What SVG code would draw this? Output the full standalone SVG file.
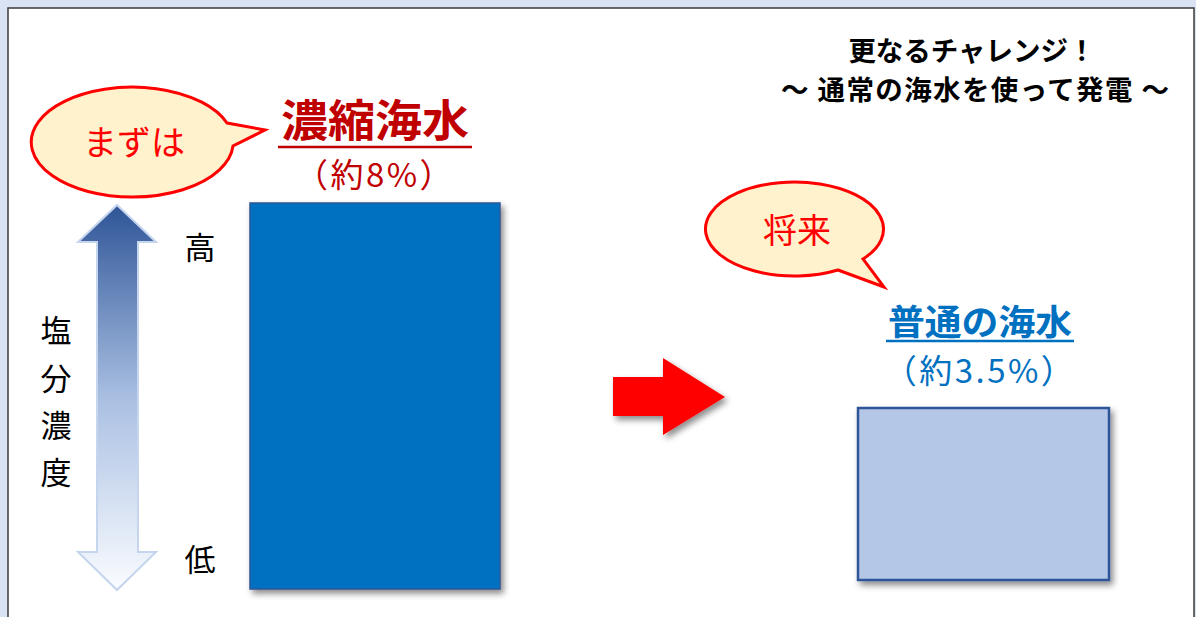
<svg xmlns="http://www.w3.org/2000/svg" width="1196" height="617" viewBox="0 0 1196 617">
<defs>
<style>
.jp{font-family:"Noto Sans CJK JP","Noto Sans",sans-serif;}
.bubble{fill:#fff2cc;stroke:#ff0000;stroke-width:3;stroke-linejoin:miter;}
.btxt{fill:#ff0000;font-size:34px;text-anchor:middle;}
.lbl{fill:#000;font-size:31px;text-anchor:middle;}
</style>
<filter id="sh" x="-20%" y="-20%" width="140%" height="140%">
<feDropShadow dx="3" dy="4" stdDeviation="3" flood-color="#000" flood-opacity="0.45"/>
</filter>
<linearGradient id="g" x1="0" y1="0" x2="0" y2="1">
<stop offset="0" stop-color="#2f5597"/>
<stop offset="0.5" stop-color="#a9bfe2"/>
<stop offset="1" stop-color="#fafcff"/>
</linearGradient>
</defs>
<rect x="0" y="0" width="1196" height="617" fill="#dae3f3"/>
<rect x="8" y="8" width="1186" height="620" fill="#ffffff" stroke="#3a3a3a" stroke-width="1.5"/>

<g id="title" class="jp" font-weight="bold" font-size="27.5" text-anchor="middle" fill="#000">
<text x="972" y="61">更なるチャレンジ！</text>
<text x="975" y="100" textLength="388" lengthAdjust="spacing">～ 通常の海水を使って発電 ～</text>
</g>

<g id="bubble-mazuwa">
<path class="bubble" d="M227,123 L265,130 L233,146 A101,55 0 1 1 227,123 Z"/>
<text class="jp btxt" x="134" y="155">まずは</text>
</g>

<g id="label-noshuku" class="jp" fill="#c00000" text-anchor="middle">
<text x="375" y="137" font-size="44" font-weight="bold" textLength="188" lengthAdjust="spacingAndGlyphs">濃縮海水</text>
<line x1="278" y1="147" x2="472" y2="147" stroke="#c00000" stroke-width="2.5"/>
<text x="375" y="187" font-size="33" letter-spacing="2.5">（約8%）</text>
</g>

<g id="bar-noshuku">
<rect x="250" y="203" width="250" height="386" fill="#0070c0" stroke="#2f5597" stroke-width="1.5" filter="url(#sh)"/>
</g>

<g id="axis">
<path d="M117,205 L156,242 L138,242 L138,552 L156,552 L117,590 L78,552 L97,552 L97,242 L78,242 Z" fill="url(#g)" stroke="#c5d5ee" stroke-width="2"/>
<text class="jp lbl" x="200" y="259">高</text>
<text class="jp lbl" x="200" y="571">低</text>
<g class="jp" font-size="31" fill="#000" text-anchor="middle">
<text x="56" y="342">塩</text>
<text x="56" y="390">分</text>
<text x="56" y="437">濃</text>
<text x="56" y="484">度</text>
</g>
</g>

<g id="connectors">
<path d="M613,377 L663,377 L663,358 L725,397 L663,435 L663,416 L613,416 Z" fill="#ff0000" filter="url(#sh)"/>
</g>

<g id="bubble-shorai">
<path class="bubble" d="M838,270 L884,287 L863,259 A89,47 0 1 0 838,270 Z"/>
<text class="jp btxt" x="797" y="243">将来</text>
</g>

<g id="label-futsu" class="jp" fill="#0070c0" text-anchor="middle">
<text x="980" y="335" font-size="35" font-weight="bold" textLength="184" lengthAdjust="spacingAndGlyphs">普通の海水</text>
<line x1="886" y1="341" x2="1074" y2="341" stroke="#0070c0" stroke-width="2.5"/>
<text x="980" y="383" font-size="33" letter-spacing="2.5">（約3.5%）</text>
</g>

<g id="box-futsu">
<rect x="858" y="408" width="251" height="172" fill="#b4c7e7" stroke="#2f5597" stroke-width="2.5" filter="url(#sh)"/>
</g>
</svg>
